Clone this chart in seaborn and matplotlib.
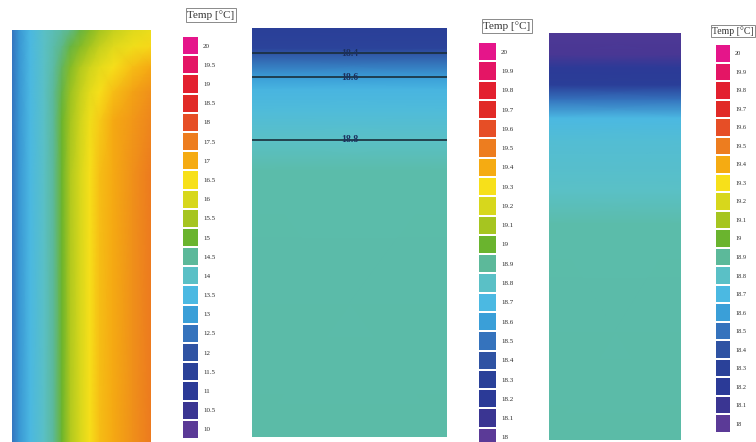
import numpy as np
import matplotlib
matplotlib.use("Agg")
import matplotlib.pyplot as plt
import seaborn as sns
from matplotlib.colors import LinearSegmentedColormap, ListedColormap, Normalize

W, H = 756, 442

# Legend swatch colours, warmest (top) to coldest (bottom)
palette = [
    "#e5158a", "#e41565", "#e3202f", "#e12a27", "#e64e26", "#ed7d1f",
    "#f5ab12", "#f7e01a", "#d7d71c", "#a6c520", "#6ab42e", "#5cb99a",
    "#5ac0c6", "#4bb9e2", "#3a9fd8", "#3573bd", "#2f53a3", "#2a4199",
    "#2b3a97", "#3a3592", "#5b3a97",
]

# Legend values
legend_a = [20, 19.5, 19, 18.5, 18, 17.5, 17, 16.5, 16, 15.5, 15,
            14.5, 14, 13.5, 13, 12.5, 12, 11.5, 11, 10.5, 10]
legend_b = [20, 19.9, 19.8, 19.7, 19.6, 19.5, 19.4, 19.3, 19.2, 19.1, 19,
            18.9, 18.8, 18.7, 18.6, 18.5, 18.4, 18.3, 18.2, 18.1, 18]

# Panel A: wall cross-section, temperature on a coarse grid (x across, depth down)
wall_x = [0, 0.05, 0.13, 0.23, 0.30, 0.36, 0.42, 0.49, 0.56, 0.63, 0.73, 0.87, 1.0]
wall_depth = [0, 0.04, 0.09, 0.15, 0.22, 0.35, 1.0]
wall_temp = [
    [12.5, 12.9, 13.5, 14.0, 14.2, 14.4, 14.6, 14.9, 15.2, 15.5, 15.8, 16.1, 16.3],
    [12.5, 12.9, 13.5, 14.0, 14.3, 14.6, 14.9, 15.2, 15.5, 15.8, 16.1, 16.4, 16.6],
    [12.5, 12.9, 13.5, 14.0, 14.4, 14.8, 15.2, 15.6, 15.9, 16.2, 16.5, 16.8, 17.0],
    [12.5, 12.9, 13.5, 14.0, 14.5, 14.9, 15.4, 15.8, 16.2, 16.5, 16.8, 17.1, 17.3],
    [12.5, 12.9, 13.5, 14.0, 14.5, 15.0, 15.5, 15.9, 16.4, 16.7, 17.0, 17.2, 17.4],
    [12.5, 12.9, 13.5, 14.0, 14.5, 15.0, 15.6, 16.0, 16.5, 16.8, 17.0, 17.3, 17.5],
    [12.5, 12.9, 13.5, 14.0, 14.5, 15.0, 15.6, 16.0, 16.5, 16.8, 17.0, 17.3, 17.5],
]

# Panel B: vertical temperature profile with isotherms
depth_b = [0, 0.05, 0.065, 0.12, 0.15, 0.20, 0.273, 0.35, 1.0]
temp_b = [18.27, 18.32, 18.42, 18.60, 18.68, 18.73, 18.80, 18.86, 18.87]
isotherms_b = [18.4, 18.6, 18.8]

# Panel C: vertical temperature profile
depth_c = [0, 0.054, 0.086, 0.128, 0.165, 0.209, 0.268, 0.386, 0.47, 1.0]
temp_c = [18.04, 18.06, 18.20, 18.25, 18.50, 18.70, 18.75, 18.80, 18.86, 18.87]

sns.set_theme(style="white")
plt.rcParams["font.family"] = ["Liberation Serif", "DejaVu Serif"]

fig = plt.figure(figsize=(W / 100, H / 100), dpi=100)
fig.patch.set_facecolor("white")


def axes_px(x0, y0, x1, y1):
    return fig.add_axes([x0 / W, 1 - y1 / H, (x1 - x0) / W, (y1 - y0) / H])


cmap = LinearSegmentedColormap.from_list("temp", palette[::-1])


def field(ax, xs, ys, z, vmin, vmax):
    X, Y = np.meshgrid(xs, ys)
    Z = np.asarray(z, dtype=float)
    ax.pcolormesh(X, Y, Z, shading="gouraud", cmap=cmap,
                  norm=Normalize(vmin, vmax), rasterized=True)
    ax.set_xlim(0, 1)
    ax.set_ylim(1, 0)
    ax.axis("off")
    return X, Y, Z


def legend(ax, values, step, size):
    vals = np.array(values, dtype=float).reshape(-1, 1)
    sns.heatmap(vals, ax=ax, cmap=ListedColormap(palette[::-1]),
                vmin=min(values) - step / 2, vmax=max(values) + step / 2,
                cbar=False, linewidths=1.3, linecolor="white",
                xticklabels=False, yticklabels=[f"{v:g}" for v in values])
    ax.yaxis.tick_right()
    ax.tick_params(axis="y", length=0, pad=3, labelsize=size,
                   labelcolor="#2a2a2a", labelleft=False, labelright=True,
                   labelrotation=0)


def title(x, y, size, ha="center"):
    fig.text(x / W, 1 - y / H, "Temp [°C]", fontsize=size, color="#333333",
             ha=ha, va="center",
             bbox=dict(boxstyle="square,pad=0.15", fc="white",
                       ec="#8a8a8a", lw=0.7))


# Panel A
ax_a = axes_px(12, 30, 151, 443)
field(ax_a, wall_x, wall_depth, wall_temp, 10, 20)
legend(axes_px(182, 36, 199, 439), legend_a, 0.5, 5)
title(211, 15, 8)

# Panel B
ax_b = axes_px(252, 28, 447, 437)
zb = np.tile(np.array(temp_b)[:, None], (1, 2))
Xb, Yb, Zb = field(ax_b, [0, 1], depth_b, zb, 18, 20)
cs = ax_b.contour(Xb, Yb, Zb, levels=isotherms_b, colors="#1a2e3a",
                  linewidths=1.2)
label_pos = [(0.5, float(np.interp(v, temp_b, depth_b))) for v in isotherms_b]
labels = ax_b.clabel(cs, fmt="%.1f", inline=False, fontsize=7, colors="#1b2f5e",
                     manual=label_pos)
for t in labels:
    t.set_fontweight("bold")
legend(axes_px(478, 42, 497, 447), legend_b, 0.1, 5)
title(507, 26, 8)

# Panel C
ax_c = axes_px(549, 33, 681, 440)
zc = np.tile(np.array(temp_c)[:, None], (1, 2))
field(ax_c, [0, 1], depth_c, zc, 18, 20)
legend(axes_px(715, 44, 731, 433), legend_b, 0.1, 4.5)
title(712, 31, 7, ha="left")

fig.savefig("out.png", dpi=100, facecolor="white")
